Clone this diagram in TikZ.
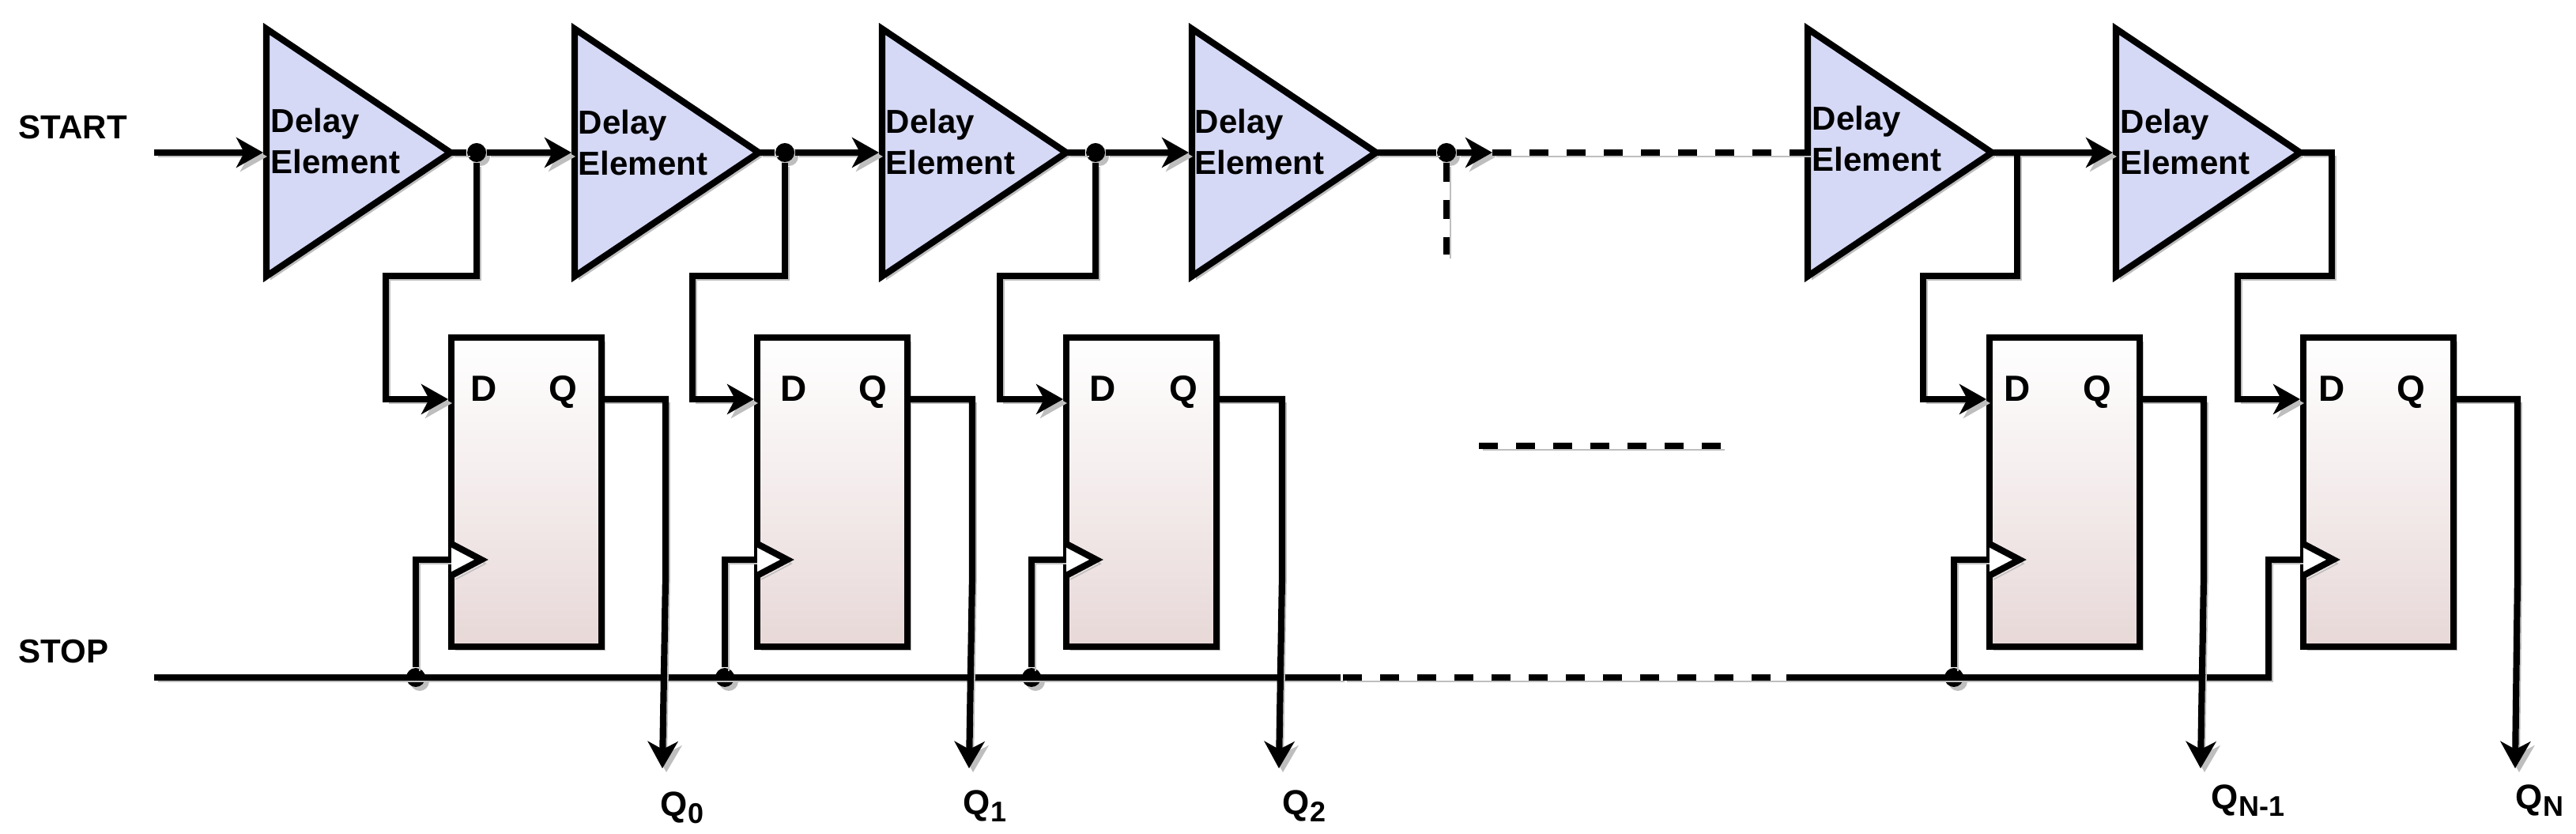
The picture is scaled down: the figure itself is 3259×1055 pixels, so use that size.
\documentclass[tikz,border=0pt]{standalone}
\usepackage{fontspec}
\setmainfont{Liberation Sans}
\usetikzlibrary{arrows.meta,shapes.geometric,shadows}
\definecolor{delayfill}{RGB}{213,217,245}
\definecolor{ffbottom}{RGB}{232,216,216}
\definecolor{shadowgrey}{RGB}{190,190,190}
\newcommand{\qsub}[1]{\raisebox{-2.25pt}{\fontsize{9}{10}\selectfont #1}}
\tikzset{
  lw/.style={line width=2.05pt},
  wire/.style={lw,line join=miter,preaction={draw=shadowgrey,transform canvas={shift={(1.25pt,-1.25pt)}}}},
  arrowwire/.style={wire,-{Stealth[length=8.5pt,width=9.5pt,inset=2.5pt]},shorten >=1pt},
  dashwire/.style={wire,dash pattern=on 6pt off 5.75pt},
  boxshadow/.style={drop shadow={shadow xshift=1.25pt,shadow yshift=-1.25pt,fill=shadowgrey,opacity=1}},
  delay/.style={isosceles triangle,isosceles triangle stretches,shape border rotate=0,
    anchor=lower side,minimum width=78.25pt,minimum height=58.25pt,inner sep=0pt,outer sep=0pt,
    draw,lw,fill=delayfill,boxshadow},
  delaytext/.style={anchor=west,align=left,inner sep=0pt,font=\fontsize{10.5}{13}\selectfont\bfseries},
  ffbox/.style={rectangle,anchor=north west,minimum width=47.5pt,minimum height=97.75pt,inner sep=0pt,outer sep=0pt,
    draw,lw,top color=white,bottom color=ffbottom,boxshadow},
  pin/.style={anchor=base,inner sep=0pt,font=\fontsize{11.5}{13}\selectfont\bfseries},
  sidetext/.style={anchor=base west,inner sep=0pt,font=\fontsize{10.5}{13}\selectfont\bfseries},
  outtext/.style={anchor=base west,inner sep=0pt,font=\fontsize{11}{13}\selectfont\bfseries},
  dot/.style={circle,fill=black,minimum size=6pt,inner sep=0pt,boxshadow},
  clk/.style={wire,fill=white,line join=miter}
}
\begin{document}
\begin{tikzpicture}[x=0.25pt,y=-0.25pt]
    \useasboundingbox (0,0) rectangle (3259,1055);
    %% labels
    \node [sidetext] (start) at (23,176) {START};
    \node [sidetext] (stop) at (23,839) {STOP};
    %% flip-flops
    \node [ffbox] (ff1) at (571,427) {};
    \node [ffbox] (ff2) at (958,427) {};
    \node [ffbox] (ff3) at (1349,427) {};
    \node [ffbox] (ff4) at (2517,427) {};
    \node [ffbox] (ff5) at (2914,427) {};
    \node [pin] (d1) at (612,508) {D};
    \node [pin] (d2) at (1004,508) {D};
    \node [pin] (d3) at (1395,508) {D};
    \node [pin] (d4) at (2552,508) {D};
    \node [pin] (d5) at (2950,508) {D};
    \node [pin] (q1) at (712,508) {Q};
    \node [pin] (q2) at (1104,508) {Q};
    \node [pin] (q3) at (1497,508) {Q};
    \node [pin] (q4) at (2653,508) {Q};
    \node [pin] (q5) at (3050,508) {Q};
    %% pins
    \coordinate (din1) at (571,505);
    \coordinate (din2) at (958,505);
    \coordinate (din3) at (1349,505);
    \coordinate (din4) at (2517,505);
    \coordinate (din5) at (2914,505);
    \coordinate (qout1) at (760,505);
    \coordinate (qout2) at (1148,505);
    \coordinate (qout3) at (1539,505);
    \coordinate (qout4) at (2706,505);
    \coordinate (qout5) at (3104,505);
    \coordinate (clk1) at (571,708);
    \coordinate (clk2) at (958,708);
    \coordinate (clk3) at (1349,708);
    \coordinate (clk4) at (2517,708);
    \coordinate (clk5) at (2914,708);
    %% delay elements
    \node [delay] (dly1) at (337,193) {};
    \node [delay] (dly2) at (727,193) {};
    \node [delay] (dly3) at (1116,193) {};
    \node [delay] (dly4) at (1508,193) {};
    \node [delay] (dly5) at (2287,193) {};
    \node [delay] (dly6) at (2677,193) {};
    \node [delaytext] (txt1) at (342,179) {Delay\\Element};
    \node [delaytext] (txt2) at (731,181) {Delay\\Element};
    \node [delaytext] (txt3) at (1120,180) {Delay\\Element};
    \node [delaytext] (txt4) at (1511,180) {Delay\\Element};
    \node [delaytext] (txt5) at (2292,176) {Delay\\Element};
    \node [delaytext] (txt6) at (2682,180) {Delay\\Element};
    %% junctions
    \node [dot] (jn1) at (603,193) {};
    \node [dot] (jn2) at (993,193) {};
    \node [dot] (jn3) at (1386,193) {};
    \node [dot] (jn4) at (1830,193) {};
    \node [dot] (st1) at (526,857) {};
    \node [dot] (st2) at (917,857) {};
    \node [dot] (st3) at (1305,857) {};
    \node [dot] (st4) at (2472,857) {};
    %% free ends
    \coordinate (startin) at (195,193);
    \coordinate (stopin) at (195,857);
    \coordinate (topdash) at (1888,193);
    \coordinate (stopdash) at (1696,857);
    \coordinate (stopdash2) at (1699,857);
    \coordinate (stopback) at (2260,857);
    %% top row
    \draw [arrowwire] (startin) -- (dly1.lower side);
    \draw [arrowwire] (dly1.apex) -- (jn1) -- (dly2.lower side);
    \draw [arrowwire] (dly2.apex) -- (jn2) -- (dly3.lower side);
    \draw [arrowwire] (dly3.apex) -- (jn3) -- (dly4.lower side);
    \draw [arrowwire,shorten >=0pt] (dly4.apex) -- (jn4) -- (topdash);
    \draw [dashwire] (topdash) -- (dly5.lower side);
    \draw [dashwire] (jn4) -- (1830,322);
    \draw [arrowwire] (dly5.apex) -- (dly6.lower side);
    %% to the flip-flops
    \draw [arrowwire] (jn1) -- (603,349) -- (488,349) |- (din1);
    \draw [arrowwire] (jn2) -- (993,349) -- (876,349) |- (din2);
    \draw [arrowwire] (jn3) -- (1386,349) -- (1265,349) |- (din3);
    \draw [arrowwire] (2552,193) -- (2552,349) -- (2433,349) |- (din4);
    \draw [arrowwire] (dly6.apex) -- (2950,193) -- (2950,349) -- (2831,349) |- (din5);
    %% stop line
    \draw [wire] (stopin) -- (stopdash);
    \draw [dashwire] (stopdash2) -- (stopback);
    \draw [wire] (stopback) -- (2870,857) |- (clk5);
    \draw [wire] (st1) |- (clk1);
    \draw [wire] (st2) |- (clk2);
    \draw [wire] (st3) |- (clk3);
    \draw [wire] (st4) |- (clk4);
    \draw [dashwire] (1871,564) -- (2177,564);
    %% clock marks
    \draw [clk] (clk1) ++(0,-20) -- ++(38,20) -- ++(-38,20);
    \draw [clk] (clk2) ++(0,-20) -- ++(38,20) -- ++(-38,20);
    \draw [clk] (clk3) ++(0,-20) -- ++(38,20) -- ++(-38,20);
    \draw [clk] (clk4) ++(0,-20) -- ++(38,20) -- ++(-38,20);
    \draw [clk] (clk5) ++(0,-20) -- ++(38,20) -- ++(-38,20);
    %% outputs
    \draw [arrowwire,shorten >=0pt] (qout1) -- (842,505) -- (842,730) -- (838,972);
    \draw [arrowwire,shorten >=0pt] (qout2) -- (1230,505) -- (1230,730) -- (1226,972);
    \draw [arrowwire,shorten >=0pt] (qout3) -- (1622,505) -- (1622,730) -- (1618,972);
    \draw [arrowwire,shorten >=0pt] (qout4) -- (2788,505) -- (2788,730) -- (2784,972);
    \draw [arrowwire,shorten >=0pt] (qout5) -- (3185,505) -- (3185,730) -- (3182,972);
    \node [outtext] (out1) at (835,1033) {Q\qsub{0}};
    \node [outtext] (out2) at (1218,1031) {Q\qsub{1}};
    \node [outtext] (out3) at (1622,1031) {Q\qsub{2}};
    \node [outtext] (out4) at (2797,1024) {Q\qsub{N-1}};
    \node [outtext] (out5) at (3182,1024) {Q\qsub{N}};
\end{tikzpicture}
\end{document}
